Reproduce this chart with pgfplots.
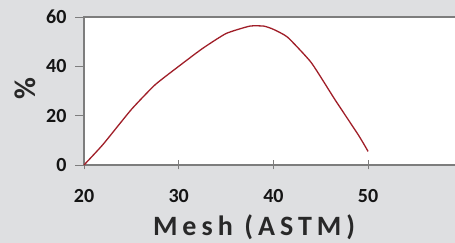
\documentclass[border=0pt]{standalone}
\usepackage{fontspec}
\setmainfont{Carlito}
\usepackage{pgfplots}
\pgfplotsset{compat=1.18}
\definecolor{bg}{RGB}{222,223,225}
\definecolor{curve}{RGB}{160,30,40}
\definecolor{axgray}{RGB}{125,125,125}
\definecolor{txt}{RGB}{20,20,20}
\definecolor{lab}{RGB}{40,40,40}
\begin{document}
\begin{tikzpicture}[x=1pt,y=1pt]
\fill[bg] (0,0) rectangle (455,243);
\useasboundingbox (0,0) rectangle (455,243);
\begin{axis}[
  at={(84pt,78pt)}, anchor=south west,
  scale only axis, width=378.8pt, height=148pt,
  xmin=20, xmax=60, ymin=0, ymax=60,
  xtick={20,30,40,50}, ytick={0,20,40,60},
  xtick pos=bottom, ytick pos=left,
  axis background/.style={fill=white},
  axis line style={axgray, line width=1.4pt},
  /pgf/number format/assume math mode=true,
  tick label style={font=\bfseries\fontsize{20}{22}\selectfont, text=txt},
  x tick style={axgray, line width=0.6pt},
  y tick style={axgray, line width=0.6pt},
  xtick align=center, major tick length=9pt,
  ytick align=outside,
  xticklabel style={yshift=-16pt},
  yticklabel style={xshift=-5pt},
  xlabel={Mesh (ASTM)},
  xlabel style={at={(axis description cs:0.449,0)}, anchor=center, yshift=-62pt,
    font=\bfseries\addfontfeatures{LetterSpace=18}\fontsize{28}{30}\selectfont, text=lab},
  ylabel={\%},
  ylabel style={at={(axis description cs:-0.1558,0.514)}, anchor=center,
    font=\bfseries\fontsize{30}{32}\selectfont, text=lab},
  clip=false,
]
\addplot[curve, line width=1.3pt, smooth, tension=0.3] coordinates {
(20,0) (22,8.3) (25,22.5) (27.5,32.5) (30,40) (32.5,47.2) (35,53.3) (37.5,56.3) (39,56.3) (40,55) (41.5,51.8) (44,41.5) (46.5,26.5) (49,12) (50,5.5)
};
\end{axis}
\end{tikzpicture}
\end{document}
